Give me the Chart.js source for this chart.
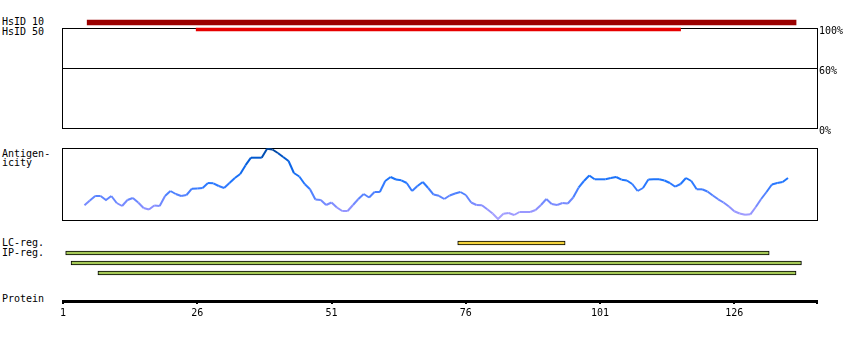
<!DOCTYPE html>
<html>
<head>
<meta charset="utf-8">
<script src="https://cdn.jsdelivr.net/npm/chart.js@4"></script>
<style>
  body { margin: 0; background: #fff; width: 850px; height: 340px; position: relative; overflow: hidden; }
  .box { position: absolute; left: 0; width: 850px; }
  .lbl { position: absolute; left: 2px; font: 10px "DejaVu Sans Mono", monospace; line-height: 10px; color: #000; white-space: pre; }
</style>
</head>
<body>
<div class="lbl" style="top:16.5px">HsID 10</div>
<div class="lbl" style="top:27px">HsID 50</div>
<div class="lbl" style="top:148.5px; line-height:9px">Antigen-
icity</div>
<div class="lbl" style="top:238px">LC-reg.</div>
<div class="lbl" style="top:248px">IP-reg.</div>
<div class="lbl" style="top:293.5px">Protein</div>

<div class="box" style="top:18px; height:125px; z-index:1"><canvas id="identityChart"></canvas></div>
<div class="box" style="top:10px; height:30px; z-index:2"><canvas id="hsidChart"></canvas></div>
<div class="box" style="top:140px; height:90px"><canvas id="antigenChart"></canvas></div>
<div class="box" style="top:228px; height:55px"><canvas id="regionChart"></canvas></div>
<div class="box" style="top:280px; height:50px"><canvas id="proteinChart"></canvas></div>

<script>
// --- datos ---
const proteinTicks = [1, 26, 51, 76, 101, 126];
const proteinEnd = 141.4;

const hsidLabels = ['HsID 10', 'HsID 50'];
const hsidRanges = [[5.5, 137.5], [25.8, 116]];
const identityTicks = [0, 60, 100];

const lcRanges = [[74.5, 94.5]];
const ipRanges = [[1.5, 132.5], [2.5, 138.5], [7.5, 137.5]];

const antigenStart = 5;
const antigenicity = [
  14.7, 19.5, 24, 24, 20, 24, 17, 14, 20, 22,
  17.5, 12, 10.5, 14.5, 14, 24, 29, 26, 24, 25,
  31.3, 31.5, 32, 37, 36.7, 34, 32, 37, 42, 46,
  54.8, 62.3, 62.3, 62.3, 71.3, 70.5, 67, 63, 59, 47,
  43.5, 36, 30.7, 20.5, 20, 15, 17.5, 12.5, 9, 9,
  15, 21, 26, 22.5, 28, 28, 39, 43, 40.5, 39.7,
  37, 29, 34, 38, 32, 25.4, 24.2, 21, 24.5, 26.5,
  28, 25, 17.5, 15, 14.7, 10.7, 6.5, 1, 6.3, 7,
  5, 8, 8, 8, 10, 15, 21, 16, 15, 17,
  16.5, 22.5, 32.3, 39, 44.5, 40.7, 40.7, 40.7, 42, 43,
  40.3, 39.5, 36, 29, 32, 40.5, 40.7, 40.7, 39.5, 37,
  33.3, 36, 42, 39, 30.7, 30.7, 28.5, 24.5, 20.7, 17.5,
  13.5, 8.7, 6.5, 5.2, 5.7, 13, 21, 28, 35.5, 37,
  38, 42
];

Chart.defaults.font.family = '"DejaVu Sans Mono", monospace';
Chart.defaults.font.size = 10;
Chart.defaults.color = '#000';
Chart.defaults.animation = false;
Chart.defaults.plugins.legend.display = false;
Chart.defaults.plugins.tooltip.enabled = false;

// marco negro alrededor del area del grafico
const framePlugin = {
  id: 'frame',
  beforeDatasetsDraw(chart) {
    const { ctx, chartArea: a } = chart;
    ctx.save();
    ctx.strokeStyle = '#000';
    ctx.lineWidth = 1;
    ctx.strokeRect(a.left - 0.5, a.top + 0.5, a.right - a.left + 1, a.bottom - a.top);
    ctx.restore();
  }
};

const xResidue = { type: 'linear', min: 1, max: proteinEnd, display: false };

// escala de color segun antigenicidad
const colorStops = [
  [0, [178, 168, 255]], [12, [140, 144, 255]], [25, [84, 130, 255]],
  [38, [34, 119, 255]], [55, [10, 100, 230]], [64, [0, 86, 200]], [72, [0, 62, 140]]
];
function antigenColor(v) {
  for (let i = 1; i < colorStops.length; i++) {
    const [v1, c1] = colorStops[i];
    const [v0, c0] = colorStops[i - 1];
    if (v <= v1) {
      const t = Math.max(0, (v - v0) / (v1 - v0));
      const c = c0.map((x, k) => Math.round(x + (c1[k] - x) * t));
      return `rgb(${c[0]},${c[1]},${c[2]})`;
    }
  }
  return 'rgb(0,62,140)';
}

// --- barras HsID ---
new Chart(document.getElementById('hsidChart'), {
  type: 'bar',
  data: {
    labels: hsidLabels,
    datasets: [
      { data: [hsidRanges[0], null], backgroundColor: '#9b0000', barThickness: 5, grouped: false },
      { data: [null, hsidRanges[1]], backgroundColor: '#e60000', barThickness: 3, grouped: false }
    ]
  },
  options: {
    indexAxis: 'y',
    responsive: true, maintainAspectRatio: false,
    layout: { padding: { left: 63, right: 33, top: 9, bottom: 7 } },
    scales: { x: xResidue, y: { type: 'category', display: false } }
  }
});

// --- caja de identidad (100% / 60% / 0%) ---
new Chart(document.getElementById('identityChart'), {
  type: 'line',
  data: { datasets: [] },
  options: {
    responsive: true, maintainAspectRatio: false,
    layout: { padding: { left: 63, right: 0, top: 10, bottom: 15 } },
    scales: {
      x: xResidue,
      y: {
        type: 'linear', position: 'right', min: 0, max: 100,
        afterBuildTicks: scale => { scale.ticks = identityTicks.map(v => ({ value: v })); },
        afterFit: scale => { scale.width = 33; },
        grid: { color: '#000', lineWidth: 1, drawTicks: false },
        border: { display: false },
        ticks: { padding: 2, labelOffset: 3, callback: v => v + '%' }
      }
    }
  },
  plugins: [framePlugin]
});

// --- antigenicidad ---
new Chart(document.getElementById('antigenChart'), {
  type: 'line',
  data: {
    datasets: [{
      data: antigenicity.map((v, i) => ({ x: antigenStart + i, y: v })),
      borderWidth: 2,
      pointRadius: 0,
      tension: 0,
      borderColor: '#2277ff',
      segment: { borderColor: ctx => antigenColor((ctx.p0.parsed.y + ctx.p1.parsed.y) / 2) }
    }]
  },
  options: {
    responsive: true, maintainAspectRatio: false,
    layout: { padding: { left: 63, right: 33, top: 8, bottom: 10 } },
    scales: { x: xResidue, y: { type: 'linear', min: 0, max: 72, display: false } }
  },
  plugins: [framePlugin]
});

// --- regiones LC / IP ---
const regionRows = [...lcRanges, ...ipRanges];
new Chart(document.getElementById('regionChart'), {
  type: 'bar',
  data: {
    labels: regionRows.map((_, i) => 'r' + i),
    datasets: [{
      data: regionRows,
      backgroundColor: regionRows.map((_, i) => i < lcRanges.length ? '#f3d33c' : '#a5c957'),
      borderColor: '#000',
      borderWidth: 1,
      borderSkipped: false,
      barThickness: 4
    }]
  },
  options: {
    indexAxis: 'y',
    responsive: true, maintainAspectRatio: false,
    layout: { padding: { left: 63, right: 33, top: 10, bottom: 5 } },
    scales: { x: xResidue, y: { type: 'category', display: false } }
  }
});

// --- eje de la proteina ---
new Chart(document.getElementById('proteinChart'), {
  type: 'line',
  data: { datasets: [] },
  options: {
    responsive: true, maintainAspectRatio: false,
    layout: { padding: { left: 63, right: 33, top: 5, bottom: 13 } },
    scales: {
      x: {
        type: 'linear', position: 'bottom', min: 1, max: proteinEnd,
        afterBuildTicks: scale => { scale.ticks = [...proteinTicks, proteinEnd].map(v => ({ value: v })); },
        grid: { drawOnChartArea: false, drawTicks: true, tickLength: 3, lineWidth: 2, color: '#000' },
        border: { display: true, width: 3, color: '#000' },
        ticks: { autoSkip: false, maxRotation: 0, padding: 3, callback: v => proteinTicks.includes(v) ? String(v) : '' }
      },
      y: { display: false, min: 0, max: 1 }
    }
  }
});
</script>
</body>
</html>
